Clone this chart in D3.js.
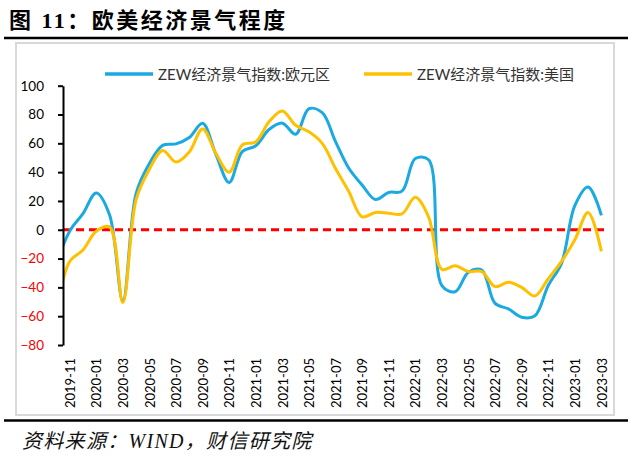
<!DOCTYPE html>
<html><head><meta charset="utf-8">
<script src="https://cdn.jsdelivr.net/npm/d3@7"></script>
<style>
html,body{margin:0;padding:0;background:#fff;}
svg{display:block;}
</style></head>
<body>
<svg id="chart" width="640" height="462"></svg>
<script>
// ---- data (monthly, 2019-10 .. 2023-03) ----
const months = ["2019-10","2019-11","2019-12","2020-01","2020-02","2020-03","2020-04","2020-05","2020-06","2020-07","2020-08","2020-09","2020-10","2020-11","2020-12","2021-01","2021-02","2021-03","2021-04","2021-05","2021-06","2021-07","2021-08","2021-09","2021-10","2021-11","2021-12","2022-01","2022-02","2022-03","2022-04","2022-05","2022-06","2022-07","2022-08","2022-09","2022-10","2022-11","2022-12","2023-01","2023-02","2023-03"];
const euroValues = [-23.5,-1.0,11.2,25.6,10.4,-49.5,25.2,46.0,58.6,59.6,64.0,73.9,52.3,32.8,54.4,58.3,69.6,74.0,66.3,84.0,81.3,61.2,42.7,31.1,21.0,25.9,26.8,49.4,48.6,-38.7,-43.0,-29.5,-28.0,-51.1,-54.9,-60.7,-59.7,-38.7,-23.3,16.7,29.7,10.0];
const usValues = [-56,-22,-14,-1,2,-50.5,21,42,55,47,54,70,53,40,59,61,75,82.5,72.5,68,60,42.5,26.5,9,12,11.5,11,22.5,9,-27.5,-25,-29,-29,-39.5,-36.5,-40,-46,-34,-22,-7,12,-15];
const seriesNames = ["ZEW经济景气指数:欧元区","ZEW经济景气指数:美国"];
const xTickLabels = ["2019-11","2020-01","2020-03","2020-05","2020-07","2020-09","2020-11","2021-01","2021-03","2021-05","2021-07","2021-09","2021-11","2022-01","2022-03","2022-05","2022-07","2022-09","2022-11","2023-01","2023-03"];
const yTicks = [-80,-60,-40,-20,0,20,40,60,80,100];
const referenceLine = [0];
const titleText = "图 11：欧美经济景气程度";
const sourceText = "资料来源：WIND，财信研究院";

const svg = d3.select("#chart");
const blue = "#1BA9E1", yellow = "#FFC000", red = "#FF0000";

// title + rules
svg.append("text").attr("x", 9).attr("y", 28)
  .attr("font-family", "'Liberation Serif','Noto Sans CJK SC'")
  .attr("font-weight", "bold").attr("font-size", 22).attr("letter-spacing", 2.5).attr("fill", "#000")
  .text(titleText);
svg.append("line").attr("x1", 4).attr("x2", 628).attr("y1", 38).attr("y2", 38)
  .attr("stroke", "#000").attr("stroke-width", 2.5);
svg.append("line").attr("x1", 4).attr("x2", 628).attr("y1", 420.5).attr("y2", 420.5)
  .attr("stroke", "#000").attr("stroke-width", 2.5);
svg.append("rect").attr("x", 16).attr("y", 43).attr("width", 598).attr("height", 372)
  .attr("fill", "none").attr("stroke", "#D9D9D9").attr("stroke-width", 2);
svg.append("text").attr("x", 22).attr("y", 448)
  .attr("font-family", "'Liberation Serif','Noto Sans CJK SC'")
  .attr("font-style", "italic").attr("font-size", 20).attr("letter-spacing", 1.3).attr("fill", "#111")
  .text(sourceText);

// scales
const x = d3.scaleLinear().domain([0.5, months.length - 1]).range([63, 601.4]);
const y = d3.scaleLinear().domain([-80, 100]).range([345, 85.7]);

svg.append("defs").append("clipPath").attr("id", "plotclip")
  .append("rect").attr("x", x(0.5)).attr("y", 40).attr("width", 560).attr("height", 330);

// zero reference line
svg.append("g").selectAll("line").data(referenceLine).join("line")
  .attr("x1", x(0.5)).attr("x2", x(months.length - 0.5))
  .attr("y1", d => y(d)).attr("y2", d => y(d))
  .attr("stroke", red).attr("stroke-width", 3).attr("stroke-dasharray", "8,5");

// series lines
const line = d3.line().x((d, i) => x(i)).y(d => y(d)).curve(d3.curveCatmullRom.alpha(0.5));
const plot = svg.append("g").attr("clip-path", "url(#plotclip)");
plot.append("path").datum(euroValues).attr("d", line)
  .attr("fill", "none").attr("stroke", blue).attr("stroke-width", 3).attr("stroke-linejoin", "round");
plot.append("path").datum(usValues).attr("d", line)
  .attr("fill", "none").attr("stroke", yellow).attr("stroke-width", 3).attr("stroke-linejoin", "round");

// y axis
const yAxis = svg.append("g").attr("transform", "translate(63,0)")
  .call(d3.axisLeft(y).tickValues(yTicks).tickSize(5).tickSizeOuter(0).tickPadding(14));
yAxis.select(".domain").attr("stroke", "#000").attr("stroke-width", 2);
yAxis.selectAll(".tick line").attr("stroke", "#000").attr("stroke-width", 2);
yAxis.selectAll(".tick text")
  .attr("font-family", "Lato, 'Noto Sans'").attr("font-size", 13.5)
  .attr("fill", d => d < 0 ? red : "#000");

// x axis labels
const xAxis = svg.append("g").attr("transform", "translate(0,345)")
  .call(d3.axisBottom(x)
    .tickValues(xTickLabels.map(l => months.indexOf(l)))
    .tickFormat(i => months[i]).tickSize(0));
xAxis.select(".domain").remove();
xAxis.selectAll(".tick text")
  .attr("transform", "rotate(-90)")
  .attr("x", -13).attr("y", 0).attr("dy", "0.36em")
  .attr("text-anchor", "end")
  .attr("font-family", "Lato, 'Noto Sans'").attr("font-size", 13).attr("fill", "#000");

// legend
const legendX = [105, 364];
const leg = svg.append("g").selectAll("g").data(seriesNames).join("g")
  .attr("transform", (d, i) => `translate(${legendX[i]},74)`);
leg.append("line").attr("x1", 0).attr("x2", 48).attr("y1", 0).attr("y2", 0)
  .attr("stroke", (d, i) => i === 0 ? blue : yellow).attr("stroke-width", 3.5);
leg.append("text").attr("x", 53).attr("y", 5.5)
  .attr("font-family", "Lato, 'Noto Sans CJK SC'").attr("font-size", 15).attr("fill", "#333")
  .text(d => d);
</script>
</body></html>
